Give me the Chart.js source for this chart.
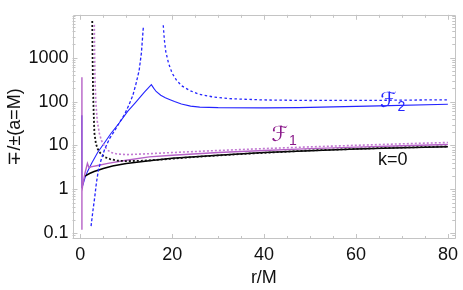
<!DOCTYPE html>
<html><head><meta charset="utf-8">
<script src="https://cdn.jsdelivr.net/npm/chart.js@4.4.0/dist/chart.umd.min.js"></script>
<style>html,body{margin:0;padding:0;background:#fff;overflow:hidden}</style>
</head><body><canvas id="c" width="463" height="290"></canvas>
<script>
// ---- data ----
const xTicks = [0, 20, 40, 60, 80];
const yTicks = [0.1, 1, 10, 100, 1000];
const yTickLabels = ['0.1', '1', '10', '100', '1000'];

const blackSolidX = [1.0, 2, 3, 5, 7, 10, 15, 20, 30, 40, 50, 60, 70, 80];
const blackSolidY = [2.0, 2.3, 2.55, 3.0, 3.4, 3.9, 4.5, 5.1, 6.0, 6.9, 7.6, 8.3, 8.9, 9.3];

const blackDotX = [2.6, 2.65, 2.75, 2.9, 3.07, 3.4, 3.8, 4.4, 5.2, 6.5, 8.1, 10, 13.9, 18.9, 25, 35, 50, 65, 80];
const blackDotY = [6900, 1500, 250, 60, 19, 11, 8.3, 6.6, 5.5, 4.9, 4.5, 4.4, 4.5, 4.9, 5.5, 6.4, 7.7, 8.7, 9.5];

const purpleSolidX = [0.35, 0.35, 0.35, 0.5, 1.0, 1.55, 1.9, 2.3, 3.8, 6, 10, 15, 20, 30, 40, 50, 60, 70, 80];
const purpleSolidY = [360, 0.12, 0.9, 1.2, 2.3, 3.9, 3.1, 3.25, 3.5, 3.9, 4.6, 5.5, 6.0, 6.9, 7.7, 8.5, 9.2, 9.9, 10.5];

const purpleDotX = [3.05, 3.1, 3.2, 3.4, 3.7, 4.15, 4.6, 5.2, 5.9, 6.7, 8, 10.3, 15, 20, 30, 40, 50, 60, 70, 80];
const purpleDotY = [5600, 1500, 300, 90, 35, 18.8, 13, 9.8, 7.9, 6.9, 6.4, 6.2, 6.5, 6.9, 7.7, 8.5, 9.3, 10.1, 10.9, 11.7];

const blueSolidX = [0.3, 0.35, 0.54, 1.0, 1.6, 2.5, 3.8, 5.0, 6.66, 8.5, 10.3, 12.0, 13.9, 15.46, 16.0, 16.5, 17.5, 18.5, 19.4, 20.5, 22, 24, 26, 30, 40, 47.5, 55, 65, 80];
const blueSolidY = [49, 1.15, 1.24, 1.8, 2.6, 4.0, 7.0, 10.5, 18.8, 33, 60, 95, 162, 244, 200, 170, 140, 122, 112, 100, 88, 79, 75, 73, 72, 73, 76, 80, 87];

const blueDashLX = [2.34, 2.7, 3.15, 3.5, 3.9, 4.5, 5.3, 6.3, 7.5, 8.5, 9.6, 10.5, 11.4, 12.1, 12.8, 13.3, 13.73];
const blueDashLY = [0.145, 0.3, 0.68, 1.4, 2.6, 4.6, 8.2, 14, 22, 33, 50, 80, 135, 250, 510, 1300, 5200];

const blueDashRX = [18.05, 18.3, 18.6, 19.2, 20, 21, 22.2, 24, 25.8, 29, 33, 40, 49.6, 65, 80];
const blueDashRY = [5500, 2500, 1380, 750, 440, 300, 225, 175, 148, 127, 116, 109, 106, 107, 110];

const zip = (xs, ys) => xs.map((x, i) => ({ x: x, y: ys[i] }));

const BLUE = '#2424ff';
const PURPLE = '#b561c6';
const PURPLE_DOT = '#c27ad2';

function ds(label, xs, ys, color, width, dash) {
  return {
    label: label, data: zip(xs, ys), borderColor: color, backgroundColor: color,
    borderWidth: width, borderDash: dash || [], pointRadius: 0, tension: 0,
    fill: false, showLine: true, spanGaps: true
  };
}

const framePlugin = {
  id: 'frame',
  afterDatasetsDraw(chart) {
    const { ctx, chartArea: a, scales: { x, y } } = chart;
    ctx.save();
    ctx.strokeStyle = '#c4c4c4';
    ctx.lineWidth = 1;
    ctx.beginPath();
    ctx.rect(Math.round(a.left) + 0.5, Math.round(a.top) + 0.5, Math.round(a.right - a.left) - 1, Math.round(a.bottom - a.top) - 1);
    ctx.stroke();
    ctx.beginPath();
    for (let v = 0; v <= 80; v += 5) {
      const px = Math.round(x.getPixelForValue(v)) + 0.5;
      const len = v % 20 === 0 ? 5 : 3;
      ctx.moveTo(px, a.bottom); ctx.lineTo(px, a.bottom - len);
      ctx.moveTo(px, a.top); ctx.lineTo(px, a.top + len);
    }
    for (let e = -2; e <= 4; e++) {
      for (let m = 1; m <= 9; m++) {
        const v = m * Math.pow(10, e);
        if (v < y.min || v > y.max) continue;
        const py = Math.round(y.getPixelForValue(v)) + 0.5;
        const len = m === 1 ? 5 : 3;
        ctx.moveTo(a.left, py); ctx.lineTo(a.left + len, py);
        ctx.moveTo(a.right, py); ctx.lineTo(a.right - len, py);
      }
    }
    ctx.stroke();
    ctx.restore();
  }
};

const labelPlugin = {
  id: 'labels',
  afterDatasetsDraw(chart) {
    const { ctx, scales: { x, y } } = chart;
    ctx.save();
    ctx.textBaseline = 'middle';
    ctx.textAlign = 'left';
    function script(px, py, sub, color) {
      ctx.fillStyle = color;
      ctx.font = 'italic 21px "DejaVu Serif", "DejaVu Sans"';
      ctx.fillText('\u2131', px, py);
      const w = ctx.measureText('\u2131').width;
      ctx.font = '14px "Liberation Sans", Arial';
      ctx.fillText(sub, px + w + 1, py + 6);
    }
    script(x.getPixelForValue(65.2), y.getPixelForValue(101), '2', BLUE);
    script(x.getPixelForValue(41.6), y.getPixelForValue(17), '1', '#8b1a8b');
    ctx.fillStyle = '#111';
    ctx.font = '18px "Liberation Sans", Arial';
    ctx.textAlign = 'center';
    ctx.fillText('k=0', x.getPixelForValue(68), y.getPixelForValue(4.72));
    ctx.restore();
  }
};

new Chart(document.getElementById('c'), {
  type: 'line',
  data: {
    datasets: [
      ds('blueDashL', blueDashLX, blueDashLY, BLUE, 1.3, [3, 2]),
      ds('blueDashR', blueDashRX, blueDashRY, BLUE, 1.3, [2.5, 2.5]),
      ds('purpleDot', purpleDotX, purpleDotY, PURPLE_DOT, 1.6, [2, 2]),
      ds('blackDot', blackDotX, blackDotY, '#111', 1.8, [2, 2]),
      ds('purpleSolid', purpleSolidX, purpleSolidY, PURPLE, 1.4),
      ds('blackSolid', blackSolidX, blackSolidY, '#000', 1.5),
      ds('blueSolid', blueSolidX, blueSolidY, BLUE, 1.1)
    ]
  },
  options: {
    responsive: false,
    devicePixelRatio: 1,
    animation: false,
    layout: { padding: { top: 1, right: 5, left: 0, bottom: 0 } },
    plugins: { legend: { display: false }, tooltip: { enabled: false } },
    scales: {
      x: {
        type: 'linear', position: 'bottom', min: -1.7, max: 81.6,
        grid: { display: false, drawTicks: false }, border: { display: false },
        afterBuildTicks: s => { s.ticks = xTicks.map(v => ({ value: v })); },
        afterFit: s => { s.height = 51; },
        ticks: { color: '#111', padding: 5, maxRotation: 0, font: { family: '"Liberation Sans", Arial', size: 18 } },
        title: { display: true, text: 'r/M', color: '#111', padding: { top: 0, bottom: 1 }, font: { family: '"Liberation Sans", Arial', size: 18 } }
      },
      y: {
        type: 'logarithmic', position: 'left', min: 0.074, max: 9500,
        grid: { display: false, drawTicks: false }, border: { display: false },
        afterBuildTicks: s => { s.ticks = yTicks.map(v => ({ value: v })); },
        afterFit: s => { s.width = 72.5; },
        ticks: { color: '#111', padding: 4, font: { family: '"Liberation Sans", Arial', size: 18 },
          callback: (v) => { const i = yTicks.indexOf(v); return i >= 0 ? yTickLabels[i] : ''; } },
        title: { display: true, text: '\u2213/\u00b1(a=M)', color: '#111', padding: { top: 4, bottom: 0 }, font: { family: '"Liberation Sans", Arial', size: 18 } }
      }
    }
  },
  plugins: [framePlugin, labelPlugin]
});
</script>
</body></html>
